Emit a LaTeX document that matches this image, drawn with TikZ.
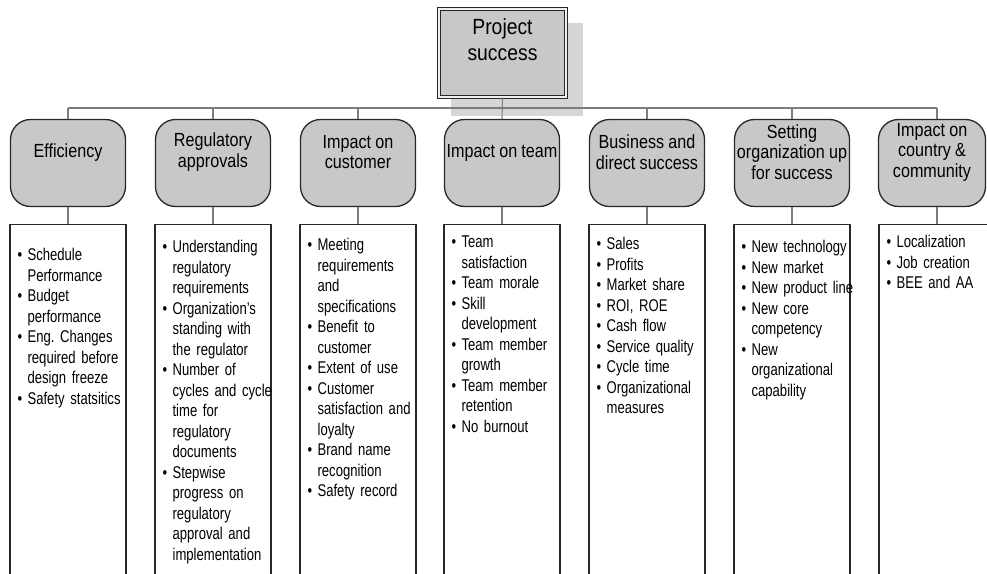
\documentclass[tikz,border=0pt]{standalone}
\usepackage{fontspec}
\setmainfont[FakeStretch=0.77]{Liberation Sans}
\newfontfamily\headfont[FakeStretch=0.85]{Liberation Sans}
\newfontfamily\topfont[FakeStretch=0.88]{Liberation Sans}
\usetikzlibrary{positioning}

\definecolor{fillgray}{RGB}{200,200,200}
\definecolor{shadowgray}{RGB}{214,214,214}
\definecolor{edgegray}{RGB}{40,40,40}
\definecolor{linegray}{RGB}{125,125,125}

\newcommand{\itm}[1]{\par\hangindent=10pt\hangafter=1\noindent\makebox[10pt][l]{\textbullet}{\let\\\newline#1}\par}

\begin{document}
\begin{tikzpicture}[x=1pt, y=-1pt,
    topbox/.style={draw=edgegray, line width=1pt, double=white!88!gray, double distance=1.6pt, fill=fillgray, minimum width=127pt, minimum height=88pt, inner sep=0pt},
    toptext/.style={font=\topfont\fontsize{22}{26}\selectfont, align=center, inner sep=0pt},
    head/.style={draw=edgegray, fill=fillgray, line width=1.3pt, rounded corners=20pt, minimum width=115pt, minimum height=87pt, inner sep=0pt},
    headtext/.style={font={\headfont\fontsize{19}{20.5}\selectfont\spaceskip=4.2pt\relax}, align=center, inner sep=0pt},
    list/.style={draw=edgegray, fill=white, line width=1.2pt, minimum width=116pt, minimum height=400pt, anchor=north, inner sep=0pt},
    items/.style={text width=135pt, inner sep=0pt, font={\fontsize{17}{20.5}\selectfont\spaceskip=3.7pt\relax}},
    link/.style={draw=linegray, line width=1.1pt}]
    \useasboundingbox (0,0) rectangle (987,573);
    \clip (0,0) rectangle (987,573);

    \fill[shadowgray] (451,23) rectangle (583,116);
    \node[topbox] (top) at (502.5,53) {};
    \node[toptext, below=10pt of top.north] (topT) {Project\\success};
    \coordinate (rail) at (0,108);

    \node[head] (eff) at (68,163) {};
    \node[head] (reg) at (213,163) {};
    \node[head] (cust) at (358,163) {};
    \node[head] (team) at (502,163) {};
    \node[head] (bus) at (647,163) {};
    \node[head] (org) at (792,163) {};
    \node[head, minimum width=107pt] (comm) at (932,163) {};

    \node[headtext] (effT) at ([yshift=10pt]eff.center) {Efficiency};
    \node[headtext] (regT) at ([yshift=11pt]reg.center) {Regulatory\\approvals};
    \node[headtext] (custT) at ([yshift=11pt]cust.center) {Impact on\\customer};
    \node[headtext] (teamT) at ([yshift=10pt]team.center) {Impact on team};
    \node[headtext] (busT) at ([yshift=11pt]bus.center) {Business and\\direct success};
    \node[headtext] (orgT) at ([yshift=11pt]org.center) {Setting\\organization up\\for success};
    \node[headtext] (commT) at ([yshift=11pt]comm.center) {Impact on\\country \&\\community};

    \node[list] (effList) at (68,224) {};
    \node[list] (regList) at (213,224) {};
    \node[list] (custList) at (358,224) {};
    \node[list] (teamList) at (502,224) {};
    \node[list] (busList) at (647,224) {};
    \node[list] (orgList) at (792,224) {};
    \node[list] (commList) at (937,224) {};

    \node[items, below right=16pt and 8pt of effList.north west] (effItems) {%
        \itm{Schedule\\Performance}\itm{Budget\\performance}%
        \itm{Eng.\ Changes\\required before\\design freeze}\itm{Safety statsitics}};
    \node[items, below right=8pt and 8pt of regList.north west] (regItems) {%
        \itm{Understanding\\regulatory\\requirements}%
        \itm{Organization’s\\standing with\\the regulator}%
        \itm{Number of\\cycles and cycle\\time for\\regulatory\\documents}%
        \itm{Stepwise\\progress on\\regulatory\\approval and\\implementation}};
    \node[items, below right=6pt and 8pt of custList.north west] (custItems) {%
        \itm{Meeting\\requirements\\and\\specifications}\itm{Benefit to\\customer}%
        \itm{Extent of use}\itm{Customer\\satisfaction and\\loyalty}%
        \itm{Brand name\\recognition}\itm{Safety record}};
    \node[items, below right=3pt and 8pt of teamList.north west] (teamItems) {%
        \itm{Team\\satisfaction}\itm{Team morale}\itm{Skill\\development}%
        \itm{Team member\\growth}\itm{Team member\\retention}\itm{No burnout}};
    \node[items, below right=5pt and 8pt of busList.north west] (busItems) {%
        \itm{Sales}\itm{Profits}\itm{Market share}\itm{ROI, ROE}\itm{Cash flow}%
        \itm{Service quality}\itm{Cycle time}\itm{Organizational\\measures}};
    \node[items, below right=8pt and 8pt of orgList.north west] (orgItems) {%
        \itm{New technology}\itm{New market}\itm{New product line}%
        \itm{New core\\competency}\itm{New\\organizational\\capability}};
    \node[items, below right=3pt and 8pt of commList.north west] (commItems) {%
        \itm{Localization}\itm{Job creation}\itm{BEE and AA}};

    \draw[link] (top.south) -- (team.north);
    \draw[link] (eff.north |- rail) -- (commList.north |- rail);
    \foreach \h/\l in {eff/effList, reg/regList, cust/custList, bus/busList, org/orgList} {
        \draw[link] (\h.north |- rail) -- (\h.north);
    }
    \foreach \h/\l in {eff/effList, reg/regList, cust/custList, team/teamList, bus/busList, org/orgList} {
        \draw[link] (\h.south) -- (\l.north);
    }
    \draw[link] (commList.north |- rail) -- (commList.north |- comm.north);
    \draw[link] (commList.north |- comm.south) -- (commList.north);
\end{tikzpicture}
\end{document}
